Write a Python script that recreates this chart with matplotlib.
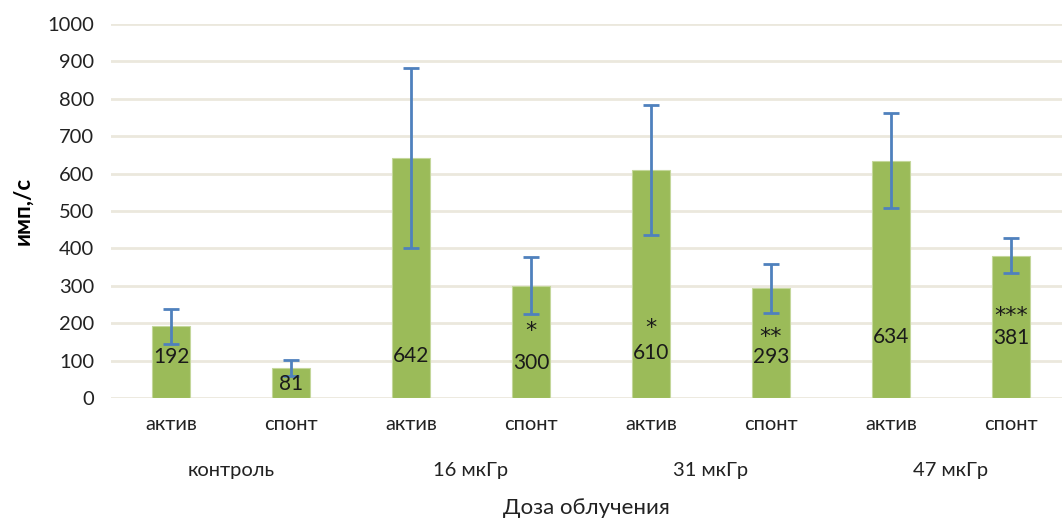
import matplotlib.pyplot as plt

plt.rcParams['font.family'] = ['Lato', 'DejaVu Sans']

# data
modes = ["актив", "спонт"] * 4
groups = ["контроль", "16 мкГр", "31 мкГр", "47 мкГр"]
values = [192, 81, 642, 300, 610, 293, 634, 381]
errors = [47, 21, 240, 76, 173, 66, 127, 47]
stars = ["", "", "", "*", "*", "**", "", "***"]

# where Excel left the labels (data units)
label_y = [110, 37, 112, 94, 121, 110, 164, 160]
star_y = [0, 0, 0, 178, 188, 162, 0, 218]

fig = plt.figure(figsize=(10.62, 5.20), dpi=100)
ax = fig.add_axes([111 / 1062, 122 / 520, 951 / 1062, 374 / 520])

x = list(range(len(values)))
ax.bar(x, values, width=0.32, color="#9bbb59", edgecolor="#c4d79b", linewidth=0.8, zorder=2)
ax.errorbar(x, values, yerr=errors, fmt="none", ecolor="#4f81bd", elinewidth=2,
            capsize=5.5, capthick=2, zorder=3)

for i, v in enumerate(values):
    ax.text(i, label_y[i], str(v), ha="center", va="center", fontsize=15, color="#1a1a1a", zorder=4)
    if stars[i]:
        ax.text(i, star_y[i], stars[i], ha="center", va="center", fontsize=16,
                family="DejaVu Sans", color="#1a1a1a", zorder=4)

ax.set_xlim(-0.5, 7.425)
ax.set_ylim(0, 1000)
ax.set_yticks(range(0, 1001, 100))
ax.tick_params(axis="y", length=0, labelsize=14.5, pad=12, labelcolor="#222222")
ax.set_xticks(x)
ax.set_xticklabels(modes)
ax.tick_params(axis="x", length=0, labelsize=14.5, pad=13, labelcolor="#222222")
ax.grid(axis="y", color="#ebe8dd", linewidth=2, zorder=0)
ax.set_axisbelow(True)
for s in ax.spines.values():
    s.set_visible(False)

for g, name in enumerate(groups):
    ax.text(2 * g + 0.5, -195, name, ha="center", va="center", fontsize=14.5, color="#222222")

ax.set_ylabel("имп,/с", fontsize=16, labelpad=10, fontweight="bold")
ax.text(0.5, -0.295, "Доза облучения", transform=ax.transAxes, ha="center", va="center",
        fontsize=16, color="#222222")

fig.savefig("out.png", dpi=100)
